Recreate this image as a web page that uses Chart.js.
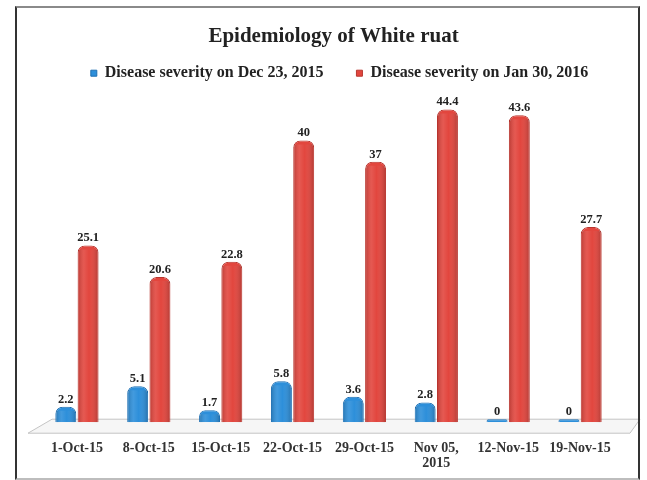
<!DOCTYPE html>
<html>
<head>
<meta charset="utf-8">
<script src="https://cdn.jsdelivr.net/npm/chart.js@4.4.1/dist/chart.umd.min.js"></script>
<style>
  html, body { margin: 0; padding: 0; background: #ffffff; }
  #wrap { position: relative; width: 647px; height: 480px; }
  #frame {
    position: absolute; left: 15px; top: 6px; width: 621px; height: 470px;
    border-left: 2px solid #333; border-right: 2px solid #333;
    border-top: 2px solid #8a8a8a; border-bottom: 2px solid #bdbdbd;
    pointer-events: none;
  }
  canvas { position: absolute; left: 0; top: 0; }
</style>
</head>
<body>
<div id="wrap">
  <canvas id="c" width="647" height="480"></canvas>
  <div id="frame"></div>
</div>
<script>
// Sowing dates and disease severity (%) recorded on two observation dates
const categories = ['1-Oct-15', '8-Oct-15', '15-Oct-15', '22-Oct-15', '29-Oct-15', ['Nov 05,', '2015'], '12-Nov-15', '19-Nov-15'];
const severityDec23 = [2.2, 5.1, 1.7, 5.8, 3.6, 2.8, 0, 0];
const severityJan30 = [25.1, 20.6, 22.8, 40, 37, 44.4, 43.6, 27.7];
const seriesNames = ['Disease severity on Dec 23, 2015', 'Disease severity on Jan 30, 2016'];

const SERIF = "'Liberation Serif', 'DejaVu Serif', serif";

// Light floor plane under the bars
const floorPlugin = {
  id: 'floor',
  beforeDatasetsDraw(chart) {
    const { ctx, chartArea: a } = chart;
    const yb = chart.scales.y.getPixelForValue(0);
    ctx.save();
    ctx.beginPath();
    ctx.moveTo(a.left + 11, yb - 3);
    ctx.lineTo(a.right + 24, yb - 3);
    ctx.lineTo(a.right + 14, yb + 11);
    ctx.lineTo(a.left - 13, yb + 11);
    ctx.closePath();
    ctx.fillStyle = '#f6f6f6';
    ctx.fill();
    ctx.strokeStyle = '#c4c4c4';
    ctx.lineWidth = 1;
    ctx.stroke();
    ctx.restore();
  }
};

// Nudge the title and legend blocks a little to the right of the plot centre
const headerShift = {
  id: 'headerShift',
  afterLayout(chart) {
    if (chart.titleBlock) { chart.titleBlock.left += 5; chart.titleBlock.right += 5; }
    if (chart.legend) { chart.legend.left += 11; chart.legend.right += 11; }
  }
};

// Cylinder shading and value labels on each bar
const barDecor = {
  id: 'barDecor',
  afterDatasetsDraw(chart) {
    const { ctx } = chart;
    chart.data.datasets.forEach((ds, di) => {
      const meta = chart.getDatasetMeta(di);
      meta.data.forEach((bar, i) => {
        const p = bar.getProps(['x', 'y', 'base', 'width'], true);
        const l = p.x - p.width / 2, r = p.x + p.width / 2;
        ctx.save();
        const g = ctx.createLinearGradient(l, 0, r, 0);
        g.addColorStop(0, 'rgba(0,0,0,0.18)');
        g.addColorStop(0.3, 'rgba(255,255,255,0.10)');
        g.addColorStop(0.55, 'rgba(255,255,255,0.0)');
        g.addColorStop(1, 'rgba(0,0,0,0.22)');
        ctx.beginPath();
        ctx.rect(l + 1, p.y + 4, p.width - 2, Math.max(0, p.base - p.y - 4));
        ctx.fillStyle = g;
        ctx.fill();
        ctx.restore();

        ctx.save();
        ctx.font = 'bold 12.5px ' + SERIF;
        ctx.fillStyle = '#222';
        ctx.textAlign = 'center';
        ctx.textBaseline = 'bottom';
        ctx.fillText(String(ds.data[i]), p.x, p.y - 1);
        ctx.restore();
      });
    });
  }
};

new Chart(document.getElementById('c'), {
  type: 'bar',
  data: {
    labels: categories,
    datasets: [
      {
        label: seriesNames[0],
        data: severityDec23,
        backgroundColor: '#2d8fda',
        borderColor: '#1e6fb2',
        borderWidth: 1,
        borderRadius: { topLeft: 7, topRight: 7 },
        borderSkipped: 'bottom',
        minBarLength: 3
      },
      {
        label: seriesNames[1],
        data: severityJan30,
        backgroundColor: '#e2463e',
        borderColor: '#b8352e',
        borderWidth: 1,
        borderRadius: { topLeft: 7, topRight: 7 },
        borderSkipped: 'bottom'
      }
    ]
  },
  options: {
    responsive: false,
    animation: false,
    events: [],
    layout: { padding: { left: 41, right: 31, top: 0, bottom: -9 } },
    datasets: { bar: { categoryPercentage: 0.62, barPercentage: 0.94 } },
    plugins: {
      title: {
        display: true,
        text: 'Epidemiology of White ruat',
        color: '#222',
        font: { family: SERIF, size: 21, weight: 'bold' },
        padding: { top: 24, bottom: -17 }
      },
      legend: {
        display: true,
        labels: {
          color: '#222',
          font: { family: SERIF, size: 16, weight: 'bold' },
          boxWidth: 6,
          boxHeight: 6,
          padding: 33,
          useBorderRadius: false
        }
      },
      tooltip: { enabled: false }
    },
    scales: {
      x: {
        grid: { display: false, drawTicks: false },
        border: { display: false },
        ticks: {
          color: '#333',
          padding: 18,
          maxRotation: 0,
          autoSkip: false,
          font: { family: SERIF, size: 14, weight: 'bold', lineHeight: 1.1 }
        }
      },
      y: {
        display: false,
        min: 0,
        max: 47
      }
    }
  },
  plugins: [floorPlugin, headerShift, barDecor]
});
</script>
</body>
</html>
